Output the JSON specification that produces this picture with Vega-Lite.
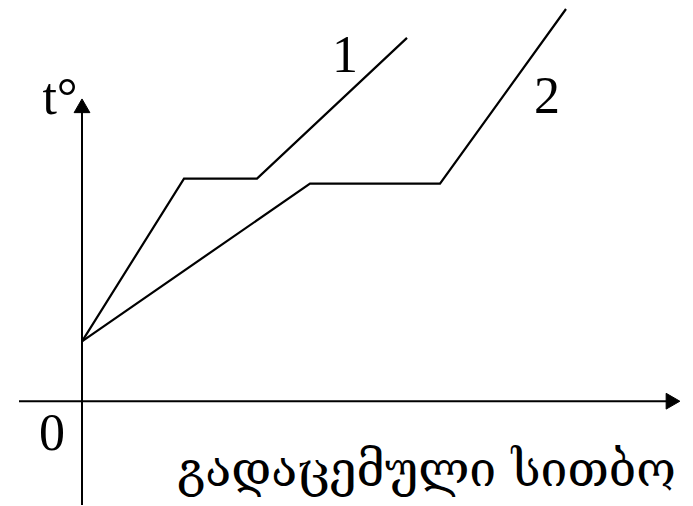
{
  "$schema": "https://vega.github.io/schema/vega-lite/v6.json",
  "width": 693,
  "height": 506,
  "padding": 0,
  "autosize": {"type": "fit", "contains": "padding"},
  "background": "white",
  "config": {"view": {"stroke": null}},
  "datasets": {
    "axes": [
      {"axis": "t", "x": 0, "y": -104, "x2": 0, "y2": 292},
      {"axis": "q", "x": -63, "y": 0, "x2": 586, "y2": 0}
    ],
    "arrowUp": [
      {"x": 0, "y": 296}
    ],
    "arrowRight": [
      {"x": 591, "y": 0}
    ],
    "curves": [
      {"series": "1", "order": 0, "x": 0, "y": 60},
      {"series": "1", "order": 1, "x": 102, "y": 223},
      {"series": "1", "order": 2, "x": 175, "y": 223},
      {"series": "1", "order": 3, "x": 325, "y": 364},
      {"series": "2", "order": 0, "x": 0, "y": 60},
      {"series": "2", "order": 1, "x": 228, "y": 218},
      {"series": "2", "order": 2, "x": 358, "y": 218},
      {"series": "2", "order": 3, "x": 484, "y": 393}
    ],
    "labels": [
      {"text": "1", "x": 263, "y": 330},
      {"text": "2", "x": 465, "y": 289},
      {"text": "t°", "x": -22, "y": 288},
      {"text": "0", "x": -30, "y": -49}
    ],
    "caption": [
      {"text": "გადაცემული სითბო", "x": 95, "y": -85}
    ]
  },
  "layer": [
    {
      "data": {"name": "axes"},
      "mark": {"type": "rule", "color": "black", "strokeWidth": 2},
      "encoding": {
        "x": {"field": "x", "type": "quantitative", "scale": {"domain": [-82, 611], "nice": false, "zero": false}, "axis": null},
        "y": {"field": "y", "type": "quantitative", "scale": {"domain": [-104, 402], "nice": false, "zero": false}, "axis": null},
        "x2": {"field": "x2"},
        "y2": {"field": "y2"}
      }
    },
    {
      "data": {"name": "arrowUp"},
      "mark": {"type": "point", "shape": "triangle-up", "filled": true, "fill": "black", "stroke": "black", "strokeWidth": 1, "fillOpacity": 1, "size": 250},
      "encoding": {
        "x": {"field": "x", "type": "quantitative"},
        "y": {"field": "y", "type": "quantitative"}
      }
    },
    {
      "data": {"name": "arrowRight"},
      "mark": {"type": "point", "shape": "triangle-right", "filled": true, "fill": "black", "stroke": "black", "strokeWidth": 1, "fillOpacity": 1, "size": 250},
      "encoding": {
        "x": {"field": "x", "type": "quantitative"},
        "y": {"field": "y", "type": "quantitative"}
      }
    },
    {
      "data": {"name": "curves"},
      "mark": {"type": "line", "color": "black", "strokeWidth": 2.2, "strokeJoin": "miter"},
      "encoding": {
        "x": {"field": "x", "type": "quantitative"},
        "y": {"field": "y", "type": "quantitative"},
        "detail": {"field": "series"},
        "order": {"field": "order", "type": "quantitative"}
      }
    },
    {
      "data": {"name": "labels"},
      "mark": {"type": "text", "font": "Liberation Serif", "fontSize": 52, "color": "black", "align": "center", "baseline": "alphabetic"},
      "encoding": {
        "x": {"field": "x", "type": "quantitative"},
        "y": {"field": "y", "type": "quantitative"},
        "text": {"field": "text"}
      }
    },
    {
      "data": {"name": "caption"},
      "mark": {"type": "text", "font": "DejaVu Serif", "fontSize": 48, "color": "black", "align": "left", "baseline": "alphabetic"},
      "encoding": {
        "x": {"field": "x", "type": "quantitative"},
        "y": {"field": "y", "type": "quantitative"},
        "text": {"field": "text"}
      }
    }
  ]
}
